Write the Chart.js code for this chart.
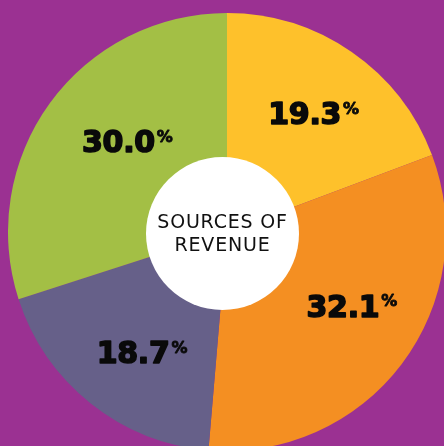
<!DOCTYPE html>
<html>
<head>
<meta charset="utf-8">
<script src="https://cdn.jsdelivr.net/npm/chart.js@4/dist/chart.umd.min.js"></script>
<style>
  html, body { margin: 0; padding: 0; width: 444px; height: 446px; overflow: hidden; background: #9B3192; }
  #wrap { position: absolute; left: 8px; top: 13px; width: 438px; height: 438px; }
</style>
</head>
<body>
<div id="wrap"><canvas id="c"></canvas></div>
<script>
const categories = ["Source A", "Source B", "Source C", "Source D"];
const shares = [19.3, 32.1, 18.7, 30.0];
const valueLabels = ["19.3", "32.1", "18.7", "30.0"];
const sliceColors = ["#FEC12B", "#F48F22", "#666089", "#A3BF45"];
const centerLines = ["SOURCES OF", "REVENUE"];

const labelPlugin = {
  id: 'sliceLabels',
  afterDatasetsDraw(chart, args, opts) {
    const ctx = chart.ctx;
    const meta = chart.getDatasetMeta(0);
    const first = meta.data[0];
    const cx = first.x, cy = first.y;
    // white center disc
    ctx.save();
    ctx.beginPath();
    ctx.arc(cx + opts.centerOffset[0], cy + opts.centerOffset[1], opts.discRadius, 0, Math.PI * 2);
    ctx.fillStyle = '#FFFFFF';
    ctx.fill();
    ctx.fillStyle = '#111111';
    ctx.textAlign = 'center';
    ctx.textBaseline = 'middle';
    ctx.font = '19px "DejaVu Sans"';
    try { ctx.letterSpacing = '0.8px'; } catch (e) {}
    ctx.fillText(centerLines[0], cx + opts.centerOffset[0], cy + opts.centerOffset[1] - 10);
    ctx.fillText(centerLines[1], cx + opts.centerOffset[0], cy + opts.centerOffset[1] + 13);
    try { ctx.letterSpacing = '0px'; } catch (e) {}
    ctx.restore();

    meta.data.forEach((arc, i) => {
      const mid = (arc.startAngle + arc.endAngle) / 2;
      const r = arc.outerRadius * opts.radiusFraction;
      const x = cx + Math.cos(mid) * r + opts.offsets[i][0];
      const y = cy + Math.sin(mid) * r + opts.offsets[i][1];
      ctx.save();
      ctx.fillStyle = '#0A0A0A';
      ctx.strokeStyle = '#0A0A0A';
      ctx.lineJoin = 'round';
      ctx.textBaseline = 'alphabetic';
      ctx.textAlign = 'left';
      const bigFont = 'bold 30px "DejaVu Sans"';
      const smallFont = 'bold 16px "DejaVu Sans"';
      ctx.font = bigFont;
      try { ctx.letterSpacing = '-0.3px'; } catch (e) {}
      const numW = ctx.measureText(valueLabels[i]).width;
      ctx.font = smallFont;
      try { ctx.letterSpacing = '0px'; } catch (e) {}
      const pctW = ctx.measureText('%').width;
      const total = numW + 2 + pctW;
      const left = x - total / 2;
      const capH = 30 * 0.73;
      const baseline = y + capH / 2;
      ctx.font = bigFont;
      try { ctx.letterSpacing = '-0.3px'; } catch (e) {}
      ctx.lineWidth = 1.6;
      ctx.fillText(valueLabels[i], left, baseline);
      ctx.strokeText(valueLabels[i], left, baseline);
      try { ctx.letterSpacing = '0px'; } catch (e) {}
      ctx.font = smallFont;
      ctx.lineWidth = 0.8;
      ctx.fillText('%', left + numW + 2, baseline - capH + 16 * 0.73);
      ctx.strokeText('%', left + numW + 2, baseline - capH + 16 * 0.73);
      ctx.restore();
    });
  }
};

new Chart(document.getElementById('c'), {
  type: 'doughnut',
  data: {
    labels: categories,
    datasets: [{
      data: shares,
      backgroundColor: sliceColors,
      borderWidth: 0,
      hoverOffset: 0
    }]
  },
  options: {
    responsive: true,
    maintainAspectRatio: false,
    animation: false,
    cutout: 0,
    rotation: 0,
    layout: { padding: 0 },
    events: [],
    plugins: {
      legend: { display: false },
      tooltip: { enabled: false },
      sliceLabels: {
        discRadius: 76.5,
        centerOffset: [-4.5, 1.5],
        radiusFraction: 0.667,
        offsets: [[3.5, 1], [8.5, -14.5], [6, 5.5], [18.5, -4.5]]
      }
    }
  },
  plugins: [labelPlugin]
});
</script>
</body>
</html>
